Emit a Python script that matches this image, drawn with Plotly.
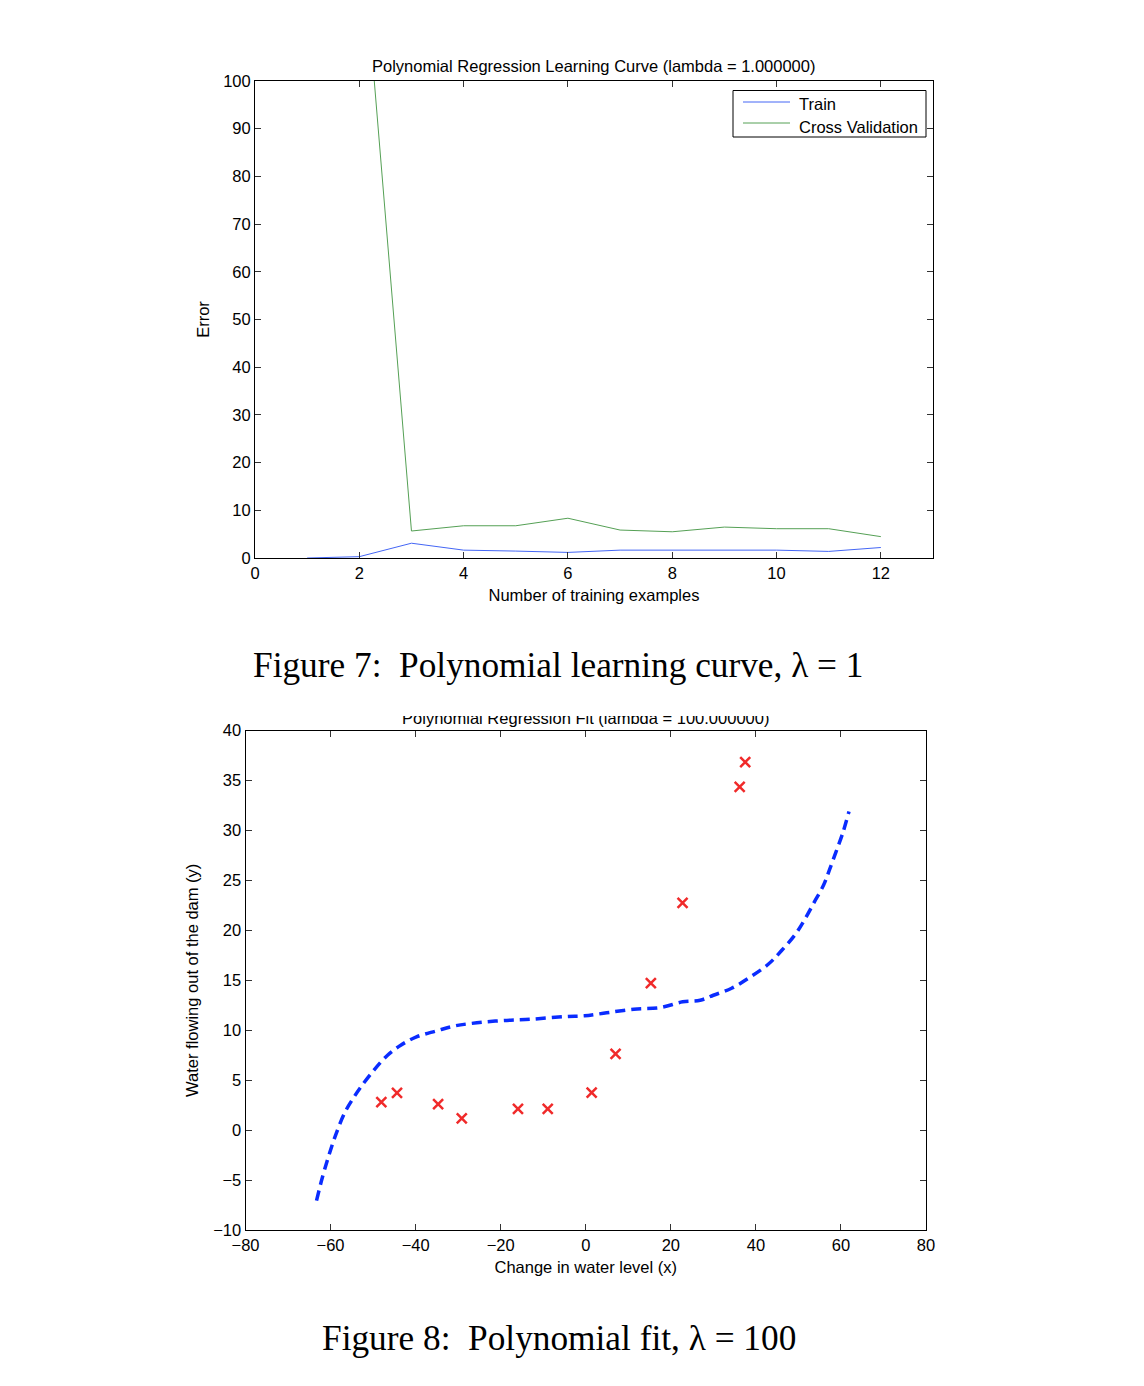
import plotly.graph_objects as go

W, H = 1144, 1386

# --- Figure 7 : learning curve (lambda = 1) ---
n_train = [1, 2, 3, 4, 5, 6, 7, 8, 9, 10, 11, 12]
err_train = [0.0, 0.28, 3.1, 1.65, 1.45, 1.17, 1.65, 1.65, 1.65, 1.65, 1.38, 2.2]
err_cv = [150.0, 138.0, 5.66, 6.76, 6.76, 8.34, 5.86, 5.5, 6.48, 6.14, 6.14, 4.48]

# --- Figure 8 : polynomial fit (lambda = 100) ---
water_x = [-15.94, -29.15, 36.19, 37.49, -48.06, -8.94, 15.31, -34.71, 1.39, -44.38, 7.01, 22.76]
water_y = [2.13, 1.17, 34.36, 36.84, 2.81, 2.12, 14.71, 2.61, 3.74, 3.73, 7.63, 22.75]

fit_x = [-63.3, -61.9, -60.3, -58.7, -56.6, -54.5, -52.9, -49.8, -46.6, -43.5, -39.8, -35.1,
         -30.8, -25.6, -19.3, -12.9, -4.5, -0.3, 4.9, 11.3, 17.6, 22.8, 26.9, 30.0, 34.3,
         38.6, 42.9, 46.1, 49.2, 51.5, 53.7, 55.9, 57.3, 58.8, 60.4, 61.9]
fit_y = [-7.06, -4.7, -2.4, -0.37, 1.8, 3.3, 4.3, 6.0, 7.5, 8.5, 9.33, 9.93,
         10.43, 10.74, 10.97, 11.1, 11.37, 11.44, 11.74, 12.1, 12.27, 12.84, 13.0, 13.5, 14.2,
         15.3, 16.6, 18.0, 19.55, 21.1, 22.8, 24.5, 26.05, 27.8, 29.7, 31.9]


def px(x):
    return x / W


def py(y):
    return 1 - y / H


FONT = "Liberation Sans, Arial, Helvetica, sans-serif"
SERIF = "Liberation Serif, Times New Roman, serif"
FS = 16.5
TRAIN_COL = '#4466f5'
CV_COL = '#55a055'

fig = go.Figure()

fig.add_trace(go.Scatter(x=n_train, y=err_train, mode='lines', name='Train', showlegend=False,
                         line=dict(color=TRAIN_COL, width=1), xaxis='x', yaxis='y'))
fig.add_trace(go.Scatter(x=n_train, y=err_cv, mode='lines', name='Cross Validation',
                         showlegend=False,
                         line=dict(color=CV_COL, width=1), xaxis='x', yaxis='y'))

fig.add_trace(go.Scatter(x=water_x, y=water_y, mode='markers', showlegend=False,
                         marker=dict(symbol='x-thin', size=10,
                                     line=dict(width=2.5, color='#f02a2a')),
                         xaxis='x2', yaxis='y2'))
fig.add_trace(go.Scatter(x=fit_x, y=fit_y, mode='lines', showlegend=False,
                         line=dict(color='#0a2cff', width=3.5, dash='10px,6px',
                                   shape='spline', smoothing=1.0),
                         xaxis='x2', yaxis='y2'))

# title of figure 8, half cut off by the page crop
fig.add_trace(go.Scatter(x=[0.5], y=[0.0], mode='text', showlegend=False,
                         text=['Polynomial Regression Fit (lambda = 100.000000)'],
                         textposition='top center', cliponaxis=True,
                         textfont=dict(family=FONT, size=FS, color='black'),
                         xaxis='x3', yaxis='y3'))

axis_common = dict(showgrid=False, zeroline=False, showline=True, linecolor='black',
                   linewidth=1, mirror='ticks', ticks='inside', ticklen=6,
                   tickcolor='#333', tickfont=dict(family=FONT, size=FS, color='black'),
                   automargin=False)
title_font = dict(family=FONT, size=FS, color='black')

# MATLAB-style legend box drawn by hand
legend_shapes = [
    dict(type='rect', xref='paper', yref='paper', x0=px(733), x1=px(926), y0=py(137), y1=py(90.5),
         line=dict(color='black', width=1), fillcolor='white', layer='above'),
    dict(type='line', xref='paper', yref='paper', x0=px(743), x1=px(790), y0=py(102), y1=py(102),
         line=dict(color=TRAIN_COL, width=1), layer='above'),
    dict(type='line', xref='paper', yref='paper', x0=px(743), x1=px(790), y0=py(123), y1=py(123),
         line=dict(color=CV_COL, width=1), layer='above'),
]
legend_labels = [
    dict(text='Train', x=px(797), y=py(104.5), xref='paper', yref='paper', showarrow=False,
         xanchor='left', yanchor='middle', font=dict(family=FONT, size=FS)),
    dict(text='Cross Validation', x=px(797), y=py(127), xref='paper', yref='paper',
         showarrow=False, xanchor='left', yanchor='middle', font=dict(family=FONT, size=FS)),
]

fig.update_layout(
    width=W, height=H, autosize=False,
    margin=dict(l=0, r=0, t=0, b=0, pad=0),
    paper_bgcolor='white', plot_bgcolor='white',
    font=dict(family=FONT, size=FS, color='black'),
    showlegend=False,
    xaxis=dict(axis_common, domain=[px(255), px(933)], range=[0, 13], dtick=2, tick0=0,
               anchor='y', title=dict(text='Number of training examples', standoff=8,
                                      font=title_font)),
    yaxis=dict(axis_common, domain=[py(558), py(81)], range=[0, 100], dtick=10,
               anchor='x', title=dict(text='Error', standoff=9, font=title_font)),
    xaxis2=dict(axis_common, domain=[px(245.5), px(926)], range=[-80, 80], dtick=20,
                anchor='y2', title=dict(text='Change in water level (x)', standoff=8,
                                        font=title_font)),
    yaxis2=dict(axis_common, domain=[py(1230), py(730.5)], range=[-10, 40], dtick=5,
                anchor='x2', title=dict(text='Water flowing out of the dam (y)', standoff=10,
                                        font=title_font)),
    xaxis3=dict(domain=[px(245.5), px(926)], range=[0, 1], visible=False, anchor='y3'),
    yaxis3=dict(domain=[py(728), py(716)], range=[0, 1], visible=False, anchor='x3'),
    annotations=[
        dict(text='Polynomial Regression Learning Curve (lambda = 1.000000)',
             x=px(593), y=py(77), xref='paper', yref='paper', showarrow=False,
             xanchor='center', yanchor='bottom', font=dict(family=FONT, size=FS)),
        dict(text='Figure 7:  Polynomial learning curve, λ = 1',
             x=px(558), y=py(665), xref='paper', yref='paper', showarrow=False,
             xanchor='center', yanchor='middle', font=dict(family=SERIF, size=35.3)),
        dict(text='Figure 8:  Polynomial fit, λ = 100',
             x=px(559), y=py(1338), xref='paper', yref='paper', showarrow=False,
             xanchor='center', yanchor='middle', font=dict(family=SERIF, size=35.3)),
    ] + legend_labels,
    shapes=legend_shapes,
)

fig.write_html("out.html", config={'displayModeBar': False},
               post_script="document.body.style.margin='0';"
                           "document.documentElement.style.overflow='hidden';")
